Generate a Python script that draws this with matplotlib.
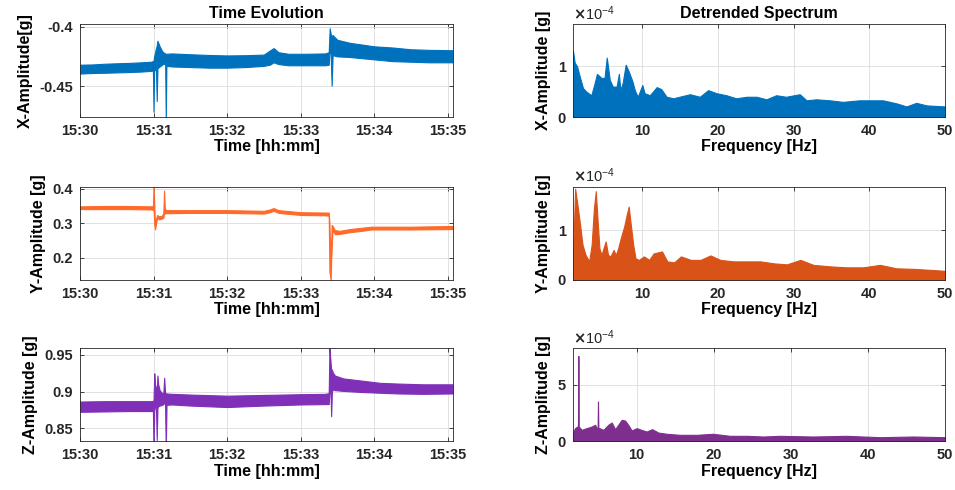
import datetime as dt
import matplotlib
matplotlib.use("Agg")
import matplotlib.pyplot as plt
import matplotlib.dates as mdates
from matplotlib.ticker import FuncFormatter
import numpy as np

plt.rcParams['font.family'] = ['Liberation Sans', 'DejaVu Sans']
plt.rcParams['font.weight'] = 'bold'

# ---- time series envelopes (seconds after 15:30:00, lower / upper edge in g)
tx = [0, 10, 20, 30, 40, 50, 58, 59.5, 60, 60.5, 62, 62.6, 63.2, 65, 67, 68.5,
      69.5, 70, 70.5, 75, 90, 105, 120, 135, 150, 155, 158, 162, 170, 185,
      200, 203, 203.8, 204.6, 205.4, 206.2, 210, 220, 230, 240, 255, 270,
      285, 304]
x_lo = [-0.4395, -0.4390, -0.4388, -0.4385, -0.4382, -0.4378, -0.4372, -0.4370,
        -0.4717, -0.4370, -0.4360, -0.4627, -0.4350, -0.4335, -0.4320, -0.4310,
        -0.4320, -0.4790, -0.4330, -0.4335, -0.4340, -0.4345, -0.4345, -0.4340,
        -0.4330, -0.4320, -0.4300, -0.4315, -0.4325, -0.4325, -0.4325, -0.4320,
        -0.4180, -0.4230, -0.4497, -0.4240, -0.4250, -0.4255, -0.4265, -0.4275,
        -0.4290, -0.4295, -0.4300, -0.4300]
x_hi = [-0.4320, -0.4318, -0.4312, -0.4308, -0.4305, -0.4300, -0.4295, -0.4290,
        -0.4285, -0.4250, -0.4180, -0.4160, -0.4118, -0.4165, -0.4205, -0.4220,
        -0.4225, -0.4228, -0.4228, -0.4225, -0.4232, -0.4238, -0.4242, -0.4240,
        -0.4235, -0.4200, -0.4180, -0.4215, -0.4228, -0.4228, -0.4225, -0.4215,
        -0.4013, -0.4060, -0.4080, -0.4070, -0.4110, -0.4135, -0.4150, -0.4165,
        -0.4175, -0.4190, -0.4195, -0.4198]

ty = [0, 20, 40, 58, 59.5, 60, 60.6, 61.2, 62, 63, 64.5, 67, 68, 68.6, 69.2,
      70, 90, 120, 150, 155, 158, 162, 180, 200, 203, 203.6, 204.6, 205.4,
      206.2, 208, 212, 220, 230, 238, 250, 270, 304]
y_lo = [0.341, 0.341, 0.341, 0.340, 0.339, 0.340, 0.300, 0.282, 0.300, 0.316,
        0.311, 0.314, 0.316, 0.330, 0.328, 0.329, 0.330, 0.330, 0.328, 0.332,
        0.336, 0.330, 0.324, 0.323, 0.322, 0.160, 0.134, 0.240, 0.282, 0.268,
        0.269, 0.274, 0.278, 0.282, 0.282, 0.282, 0.283]
y_hi = [0.349, 0.350, 0.350, 0.349, 0.350, 0.410, 0.360, 0.290, 0.312, 0.324,
        0.320, 0.322, 0.330, 0.395, 0.345, 0.338, 0.338, 0.338, 0.336, 0.340,
        0.344, 0.338, 0.332, 0.331, 0.331, 0.300, 0.160, 0.295, 0.292, 0.280,
        0.278, 0.283, 0.287, 0.290, 0.290, 0.290, 0.292]

tz = [0, 20, 40, 58, 59.5, 60, 60.6, 61.2, 62, 62.6, 63.2, 63.8, 65, 67, 68,
      68.7, 69.4, 70, 70.6, 75, 90, 120, 150, 180, 200, 203, 203.6, 204.3,
      205, 205.6, 206.4, 208, 215, 230, 245, 260, 280, 304]
z_lo = [0.8725, 0.8730, 0.8735, 0.8735, 0.8735, 0.8200, 0.8740, 0.8800, 0.8780,
        0.8340, 0.8780, 0.8800, 0.8810, 0.8820, 0.8830, 0.8850, 0.8830, 0.8200,
        0.8820, 0.8825, 0.8810, 0.8790, 0.8810, 0.8825, 0.8830, 0.8830, 0.9000,
        0.9100, 0.8665, 0.9000, 0.9030, 0.9020, 0.9010, 0.8995, 0.8985, 0.8975,
        0.8970, 0.8975]
z_hi = [0.8865, 0.8870, 0.8870, 0.8870, 0.8875, 0.8880, 0.9250, 0.9100, 0.9050,
        0.9000, 0.9220, 0.9100, 0.9020, 0.8980, 0.8980, 0.9190, 0.8990, 0.8980,
        0.8975, 0.8970, 0.8960, 0.8945, 0.8955, 0.8965, 0.8970, 0.8980, 0.9590,
        0.9450, 0.9300, 0.9300, 0.9260, 0.9220, 0.9180, 0.9150, 0.9120, 0.9110,
        0.9100, 0.9100]

# ---- spectrum upper envelopes (frequency in Hz, amplitude in 1e-4 g)
fx = [0.8, 0.84, 1.06, 1.37, 1.72, 2.16, 2.6, 3.26, 3.7, 4.0, 4.6, 5.0, 5.3,
      5.7, 6.1, 6.6, 6.9, 7.1, 7.4, 7.8, 8.2, 8.7, 9.0, 9.4, 10.0, 10.3, 11.0,
      11.9, 12.5, 13.2, 14.1, 14.9, 16.3, 17.6, 18.7, 19.8, 21.1, 22.4, 23.8,
      25.1, 26.4, 27.7, 29.0, 30.8, 31.7, 33.0, 34.8, 36.5, 38.7, 40.0, 41.8,
      43.6, 44.9, 46.2, 47.6, 50.0]
sx = [0.30, 1.30, 1.07, 1.00, 0.80, 0.57, 0.50, 0.43, 0.67, 0.85, 0.77, 0.77,
      1.17, 0.73, 0.60, 0.60, 0.85, 0.53, 0.67, 1.03, 0.90, 0.70, 0.53, 0.40,
      0.63, 0.47, 0.43, 0.59, 0.55, 0.40, 0.37, 0.40, 0.45, 0.40, 0.53, 0.47,
      0.43, 0.37, 0.40, 0.40, 0.35, 0.43, 0.40, 0.45, 0.33, 0.35, 0.33, 0.30,
      0.33, 0.33, 0.33, 0.27, 0.21, 0.28, 0.23, 0.21]

fy = [0.8, 0.9, 1.12, 1.43, 1.78, 2.1, 2.5, 2.97, 3.3, 3.6, 3.85, 4.07, 4.33,
      4.6, 4.86, 5.16, 5.47, 5.8, 6.2, 6.5, 6.8, 7.14, 7.6, 7.93, 8.2, 8.46,
      8.8, 9.1, 9.56, 10.2, 10.9, 11.5, 12.6, 13.3, 14.2, 15.1, 16.4, 17.7,
      19.0, 20.3, 22.1, 23.8, 25.6, 27.4, 29.1, 30.9, 32.6, 34.8, 37.0, 39.2,
      41.4, 43.6, 45.8, 48.0, 50.0]
sy = [0.40, 0.77, 1.83, 1.50, 1.10, 0.70, 0.50, 0.37, 0.70, 1.43, 1.78, 1.23,
      0.63, 0.50, 0.63, 0.77, 0.50, 0.47, 0.60, 0.50, 0.63, 0.83, 1.07, 1.30,
      1.47, 1.13, 0.70, 0.43, 0.40, 0.47, 0.40, 0.53, 0.57, 0.37, 0.35, 0.47,
      0.40, 0.40, 0.49, 0.40, 0.37, 0.37, 0.37, 0.33, 0.31, 0.40, 0.30, 0.27,
      0.25, 0.25, 0.30, 0.23, 0.22, 0.20, 0.18]

fz = [1.7, 2.0, 2.3, 2.38, 2.43, 2.48, 2.56, 2.86, 3.5, 4.16, 4.6, 4.81, 4.93,
      4.98, 5.03, 5.16, 5.68, 6.3, 6.76, 7.2, 7.6, 8.05, 8.5, 8.9, 9.35, 10.0,
      10.6, 11.3, 12.0, 12.8, 13.9, 15.6, 17.8, 19.9, 22.1, 24.3, 26.4, 28.6,
      32.9, 37.2, 41.6, 45.9, 50.0]
sz = [0.74, 1.18, 1.32, 1.30, 7.56, 1.30, 1.26, 1.03, 1.18, 1.32, 1.47, 1.18,
      1.18, 3.53, 1.18, 1.18, 1.03, 1.47, 1.68, 1.09, 1.47, 1.91, 1.85, 1.47,
      0.97, 1.18, 1.03, 0.88, 1.09, 0.79, 0.68, 0.59, 0.59, 0.68, 0.50, 0.50,
      0.44, 0.50, 0.44, 0.50, 0.38, 0.44, 0.38]

time_series = [
    (tx, x_lo, x_hi, '#0072BD', 'X-Amplitude[g]', (-0.4762, -0.3977), [-0.45, -0.4]),
    (ty, y_lo, y_hi, '#FF6A2A', 'Y-Amplitude [g]', (0.136, 0.406), [0.2, 0.3, 0.4]),
    (tz, z_lo, z_hi, '#7F2FB8', 'Z-Amplitude [g]', (0.832, 0.959), [0.85, 0.9, 0.95]),
]
spectra = [
    (fx, sx, '#0072BD', 'X-Amplitude [g]', (0.8, 50), 1.83, [0, 1]),
    (fy, sy, '#D95319', 'Y-Amplitude [g]', (0.8, 50), 1.87, [0, 1]),
    (fz, sz, '#7E2F8E', 'Z-Amplitude [g]', (1.7, 50), 8.23, [0, 5]),
]

t0 = mdates.date2num(dt.datetime(2021, 1, 1, 15, 30, 0))
row_bottoms = [0.761, 0.429, 0.099]
axis_color = '#262626'


def matlab_style(ax):
    ax.grid(True, color='#dcdcdc', linewidth=0.6)
    ax.set_axisbelow(True)
    for s in ax.spines.values():
        s.set_color(axis_color)
        s.set_linewidth(0.6)
    ax.tick_params(direction='in', length=3, width=0.6, top=True, right=True,
                   labelsize=10.5, colors=axis_color, pad=5)
    for lab in ax.get_xticklabels() + ax.get_yticklabels():
        lab.set_fontweight('bold')


fig = plt.figure(figsize=(9.55, 4.9), dpi=100)

for i, (t, lo, hi, c, ylab, ylim, yt) in enumerate(time_series):
    ax = fig.add_axes([0.0838, row_bottoms[i], 0.3906, 0.19])
    tn = t0 + np.array(t) / 86400.0
    ax.fill_between(tn, lo, hi, color=c, edgecolor=c, linewidth=0.8)
    ax.set_xlim(t0, t0 + 304.5 / 86400.0)
    ax.set_ylim(*ylim)
    ax.set_yticks(yt)
    ax.set_yticklabels([f'{v:g}' for v in yt])
    ax.set_xticks([t0 + k * 60 / 86400.0 for k in range(6)])
    ax.xaxis.set_major_formatter(mdates.DateFormatter('%H:%M'))
    matlab_style(ax)
    ax.set_xlabel('Time [hh:mm]', fontsize=11.5, fontweight='bold', labelpad=1)
    ax.set_ylabel(ylab, fontsize=11.5, fontweight='bold', labelpad=5)
    if i == 0:
        ax.set_title('Time Evolution', fontsize=11.5, fontweight='bold', pad=4)

for i, (f, s, c, ylab, xlim, ytop, yt) in enumerate(spectra):
    ax = fig.add_axes([0.5997, row_bottoms[i], 0.3898, 0.19])
    ax.fill_between(f, 0, np.array(s) * 1e-4, color=c, edgecolor=c, linewidth=0.8)
    ax.set_xlim(*xlim)
    ax.set_ylim(0, ytop * 1e-4)
    ax.set_xticks([10, 20, 30, 40, 50])
    ax.set_yticks([v * 1e-4 for v in yt])
    ax.yaxis.set_major_formatter(FuncFormatter(lambda v, p: f'{v / 1e-4:g}'))
    matlab_style(ax)
    ax.text(0.0, 1.015, r'$\times\mathregular{10^{-4}}$', transform=ax.transAxes,
            ha='left', va='bottom', fontsize=10.5, fontweight='normal',
            color=axis_color)
    ax.set_xlabel('Frequency [Hz]', fontsize=11.5, fontweight='bold', labelpad=1)
    ax.set_ylabel(ylab, fontsize=11.5, fontweight='bold', labelpad=5)
    if i == 0:
        ax.set_title('Detrended Spectrum', fontsize=11.5, fontweight='bold', pad=4)

fig.savefig('out.png', dpi=100)
